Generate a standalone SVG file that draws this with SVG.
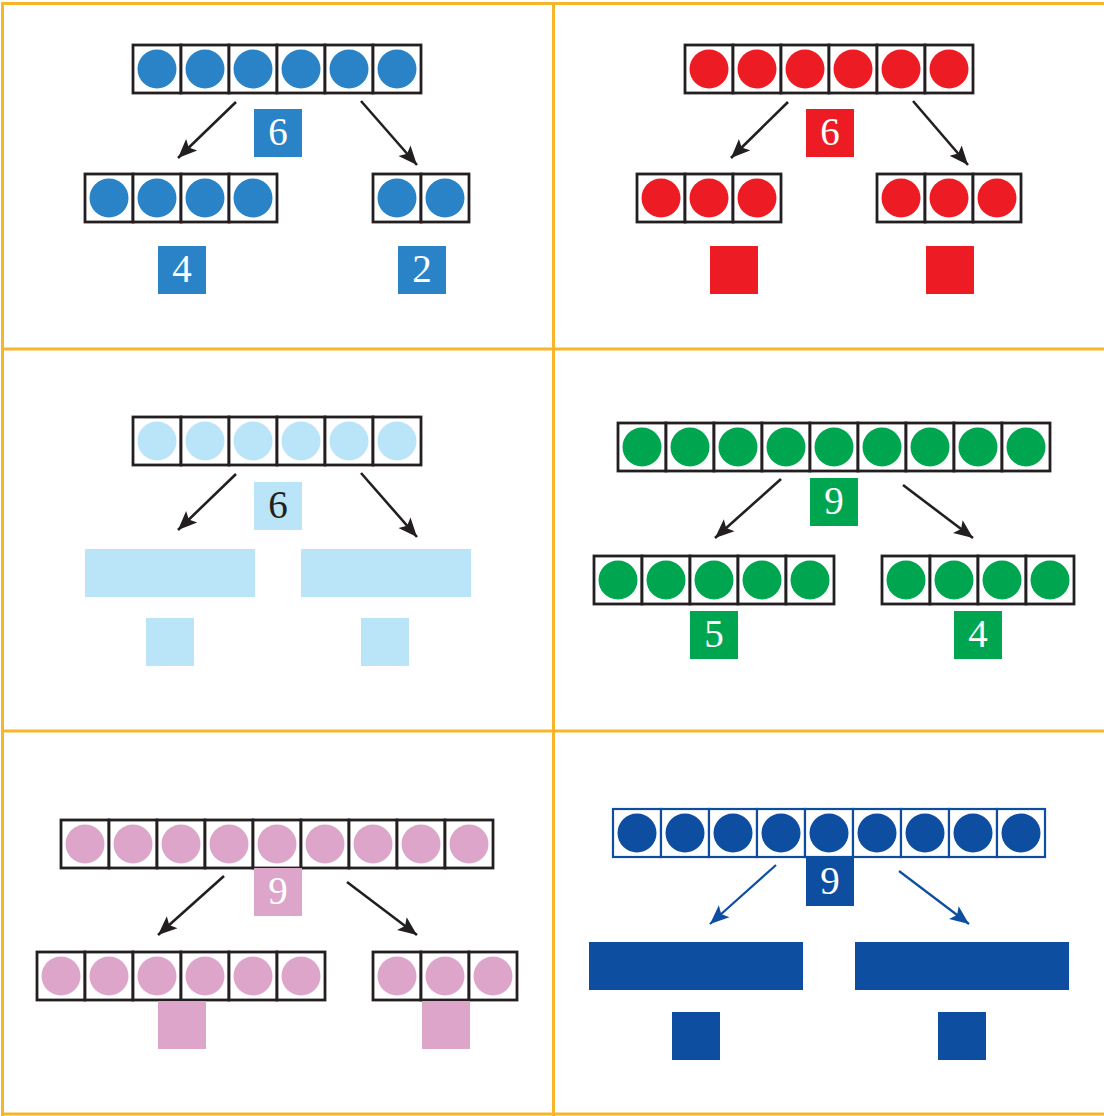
<svg xmlns="http://www.w3.org/2000/svg" xmlns:xlink="http://www.w3.org/1999/xlink" width="1104" height="1116" viewBox="0 0 1104 1116">
<style>
.grid{stroke:#F7B52C;stroke-width:3;fill:none}
.cell{fill:#fff;stroke:#231F20;stroke-width:2.8}
.cellb{fill:#fff;stroke:#0D4EA0;stroke-width:2.2}
.arr{stroke:#231F20;stroke-width:2.6;fill:none}
.arrb{stroke:#0D4EA0;stroke-width:2.2;fill:none}
.num{font-family:"Liberation Serif","Times New Roman",serif;font-size:39px;text-anchor:middle;fill:#fff}
.dark{fill:#231F20}
.c1{fill:#2A83C6}.c2{fill:#ED1C24}.c3{fill:#BAE4F8}.c4{fill:#00A54F}.c5{fill:#DDA5C9}.c6{fill:#0D4EA0}
</style>
<defs>
<marker id="ah" markerUnits="userSpaceOnUse" markerWidth="20" markerHeight="18" refX="19" refY="8" orient="auto" viewBox="0 0 20 16">
<path d="M0,0 L19,8 L0,16 L4,8 Z" fill="#231F20"/>
</marker>
<marker id="ahb" markerUnits="userSpaceOnUse" markerWidth="20" markerHeight="18" refX="19" refY="8" orient="auto" viewBox="0 0 20 16">
<path d="M0,0 L19,8 L0,16 L4,8 Z" fill="#0D4EA0"/>
</marker>
<g id="k1"><rect class="cell" width="48" height="48"/><circle class="c1" cx="24" cy="24" r="19.5"/></g>
<g id="k2"><rect class="cell" width="48" height="48"/><circle class="c2" cx="24" cy="24" r="19.5"/></g>
<g id="k3"><rect class="cell" width="48" height="48"/><circle class="c3" cx="24" cy="24" r="19.5"/></g>
<g id="k4"><rect class="cell" width="48" height="48"/><circle class="c4" cx="24" cy="24" r="19.5"/></g>
<g id="k5"><rect class="cell" width="48" height="48"/><circle class="c5" cx="24" cy="24" r="19.5"/></g>
<g id="k6"><rect class="cellb" width="48" height="48"/><circle class="c6" cx="24" cy="24" r="19.5"/></g>
</defs>
<rect width="1104" height="1116" fill="#fff"/>
<g id="grid">
<line class="grid" x1="2.5" y1="2" x2="2.5" y2="1116"/>
<line class="grid" x1="1" y1="3.5" x2="1104" y2="3.5"/>
<line class="grid" x1="553.5" y1="3" x2="553.5" y2="1116"/>
<line class="grid" x1="1" y1="349" x2="1104" y2="349"/>
<line class="grid" x1="1" y1="731" x2="1104" y2="731"/>
<line class="grid" x1="1" y1="1114" x2="1104" y2="1114"/>
</g>
<g id="connectors">
<line class="arr" x1="236" y1="102" x2="178" y2="158" marker-end="url(#ah)"/>
<line class="arr" x1="361" y1="101" x2="417" y2="165" marker-end="url(#ah)"/>
<line class="arr" x1="788" y1="102" x2="731" y2="158" marker-end="url(#ah)"/>
<line class="arr" x1="913" y1="101" x2="968" y2="165" marker-end="url(#ah)"/>
<line class="arr" x1="236" y1="474" x2="178" y2="530" marker-end="url(#ah)"/>
<line class="arr" x1="361" y1="473" x2="417" y2="537" marker-end="url(#ah)"/>
<line class="arr" x1="781" y1="479" x2="715" y2="538" marker-end="url(#ah)"/>
<line class="arr" x1="903" y1="485" x2="973" y2="538" marker-end="url(#ah)"/>
<line class="arr" x1="224" y1="876" x2="158" y2="935" marker-end="url(#ah)"/>
<line class="arr" x1="347" y1="882" x2="417" y2="935" marker-end="url(#ah)"/>
<line class="arrb" x1="776" y1="865" x2="710" y2="924" marker-end="url(#ahb)"/>
<line class="arrb" x1="899" y1="871" x2="969" y2="924" marker-end="url(#ahb)"/>
</g>
<g id="p1-top"><use href="#k1" x="133" y="45"/><use href="#k1" x="181" y="45"/><use href="#k1" x="229" y="45"/><use href="#k1" x="277" y="45"/><use href="#k1" x="325" y="45"/><use href="#k1" x="373" y="45"/></g>
<g id="p1-num"><rect class="c1" x="254" y="109" width="48" height="48"/><text class="num" x="278" y="145">6</text></g>
<g id="p1-left"><use href="#k1" x="85" y="174"/><use href="#k1" x="133" y="174"/><use href="#k1" x="181" y="174"/><use href="#k1" x="229" y="174"/></g>
<g id="p1-right"><use href="#k1" x="373" y="174"/><use href="#k1" x="421" y="174"/></g>
<g id="p1-n4"><rect class="c1" x="158" y="246" width="48" height="48"/><text class="num" x="182" y="282">4</text></g>
<g id="p1-n2"><rect class="c1" x="398" y="246" width="48" height="48"/><text class="num" x="422" y="282">2</text></g>

<g id="p2-top"><use href="#k2" x="685" y="45"/><use href="#k2" x="733" y="45"/><use href="#k2" x="781" y="45"/><use href="#k2" x="829" y="45"/><use href="#k2" x="877" y="45"/><use href="#k2" x="925" y="45"/></g>
<g id="p2-num"><rect class="c2" x="806" y="109" width="48" height="48"/><text class="num" x="830" y="145">6</text></g>
<g id="p2-left"><use href="#k2" x="637" y="174"/><use href="#k2" x="685" y="174"/><use href="#k2" x="733" y="174"/></g>
<g id="p2-right"><use href="#k2" x="877" y="174"/><use href="#k2" x="925" y="174"/><use href="#k2" x="973" y="174"/></g>
<g id="p2-b1"><rect class="c2" x="710" y="246" width="48" height="48"/></g>
<g id="p2-b2"><rect class="c2" x="926" y="246" width="48" height="48"/></g>

<g id="p3-top"><use href="#k3" x="133" y="417"/><use href="#k3" x="181" y="417"/><use href="#k3" x="229" y="417"/><use href="#k3" x="277" y="417"/><use href="#k3" x="325" y="417"/><use href="#k3" x="373" y="417"/></g>
<g id="p3-num"><rect class="c3" x="254" y="482" width="48" height="48"/><text class="num dark" x="278" y="518">6</text></g>
<g id="p3-left"><rect class="c3" x="85" y="549" width="170" height="48"/></g>
<g id="p3-right"><rect class="c3" x="301" y="549" width="170" height="48"/></g>
<g id="p3-b1"><rect class="c3" x="146" y="618" width="48" height="48"/></g>
<g id="p3-b2"><rect class="c3" x="361" y="618" width="48" height="48"/></g>

<g id="p4-top"><use href="#k4" x="618" y="423"/><use href="#k4" x="666" y="423"/><use href="#k4" x="714" y="423"/><use href="#k4" x="762" y="423"/><use href="#k4" x="810" y="423"/><use href="#k4" x="858" y="423"/><use href="#k4" x="906" y="423"/><use href="#k4" x="954" y="423"/><use href="#k4" x="1002" y="423"/></g>
<g id="p4-num"><rect class="c4" x="810" y="478" width="48" height="48"/><text class="num" x="834" y="514">9</text></g>
<g id="p4-left"><use href="#k4" x="594" y="556"/><use href="#k4" x="642" y="556"/><use href="#k4" x="690" y="556"/><use href="#k4" x="738" y="556"/><use href="#k4" x="786" y="556"/></g>
<g id="p4-right"><use href="#k4" x="882" y="556"/><use href="#k4" x="930" y="556"/><use href="#k4" x="978" y="556"/><use href="#k4" x="1026" y="556"/></g>
<g id="p4-n5"><rect class="c4" x="690" y="611" width="48" height="48"/><text class="num" x="714" y="647">5</text></g>
<g id="p4-n4"><rect class="c4" x="954" y="611" width="48" height="48"/><text class="num" x="978" y="647">4</text></g>

<g id="p5-top"><use href="#k5" x="61" y="820"/><use href="#k5" x="109" y="820"/><use href="#k5" x="157" y="820"/><use href="#k5" x="205" y="820"/><use href="#k5" x="253" y="820"/><use href="#k5" x="301" y="820"/><use href="#k5" x="349" y="820"/><use href="#k5" x="397" y="820"/><use href="#k5" x="445" y="820"/></g>
<g id="p5-num"><rect class="c5" x="254" y="868" width="48" height="48"/><text class="num" x="278" y="904">9</text></g>
<g id="p5-left"><use href="#k5" x="37" y="952"/><use href="#k5" x="85" y="952"/><use href="#k5" x="133" y="952"/><use href="#k5" x="181" y="952"/><use href="#k5" x="229" y="952"/><use href="#k5" x="277" y="952"/></g>
<g id="p5-right"><use href="#k5" x="373" y="952"/><use href="#k5" x="421" y="952"/><use href="#k5" x="469" y="952"/></g>
<g id="p5-b1"><rect class="c5" x="158" y="1001" width="48" height="48"/></g>
<g id="p5-b2"><rect class="c5" x="422" y="1001" width="48" height="48"/></g>

<g id="p6-top"><use href="#k6" x="613" y="809"/><use href="#k6" x="661" y="809"/><use href="#k6" x="709" y="809"/><use href="#k6" x="757" y="809"/><use href="#k6" x="805" y="809"/><use href="#k6" x="853" y="809"/><use href="#k6" x="901" y="809"/><use href="#k6" x="949" y="809"/><use href="#k6" x="997" y="809"/></g>
<g id="p6-num"><rect class="c6" x="806" y="858" width="48" height="48"/><text class="num" x="830" y="894">9</text></g>
<g id="p6-left"><rect class="c6" x="589" y="942" width="214" height="48"/></g>
<g id="p6-right"><rect class="c6" x="855" y="942" width="214" height="48"/></g>
<g id="p6-b1"><rect class="c6" x="672" y="1012" width="48" height="48"/></g>
<g id="p6-b2"><rect class="c6" x="938" y="1012" width="48" height="48"/></g>
</svg>
